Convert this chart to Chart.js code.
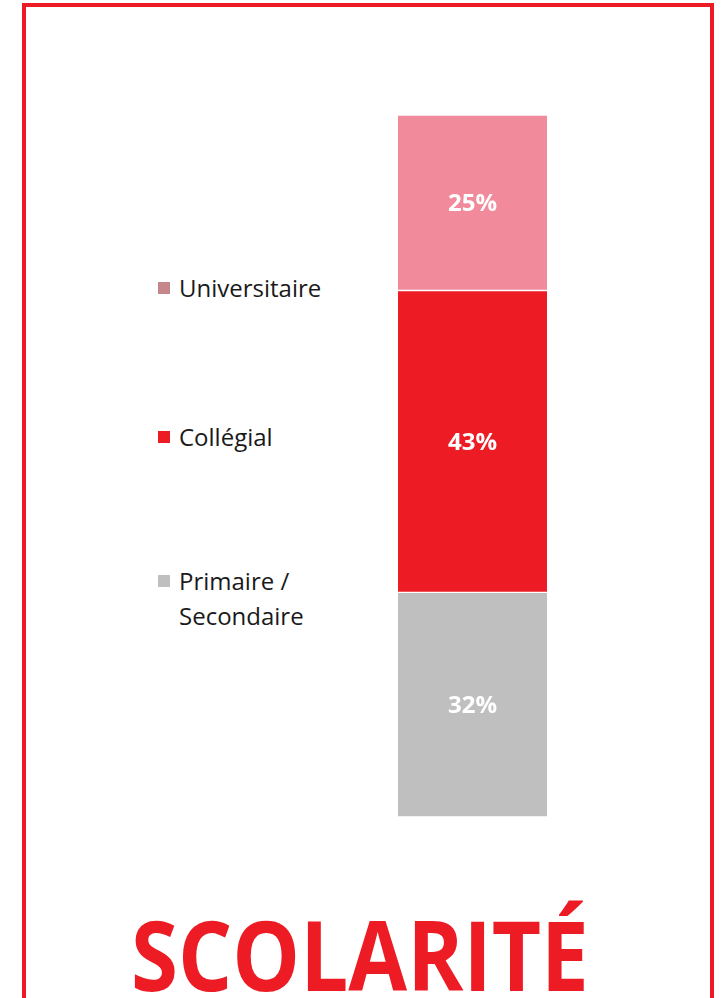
<!DOCTYPE html>
<html lang="fr">
<head>
<meta charset="utf-8">
<title>Scolarité</title>
<script src="https://cdn.jsdelivr.net/npm/chart.js@4"></script>
<style>
    body {
        margin: 0;
        width: 723px;
        height: 998px;
        overflow: hidden;
        background: #ffffff;
        position: relative;
        font-family: 'Open Sans', sans-serif;
    }
    #cadre {
        position: absolute;
        left: 22px;
        top: 3px;
        width: 684px;
        height: 1020px;
        border: 4px solid #ed1c24;
    }
    #zone-graphique {
        position: absolute;
        left: 398px;
        top: 115px;
        width: 149px;
        height: 702px;
    }
    #legende {
        position: absolute;
        left: 158px;
        top: 270px;
    }
    .item-legende {
        display: flex;
        align-items: flex-start;
        font-size: 24px;
        line-height: 35px;
        color: #1a1a1a;
    }
    .item-legende:nth-child(1) { margin-bottom: 114px; }
    .item-legende:nth-child(2) { margin-bottom: 109px; }
    .carre {
        width: 12px;
        height: 12px;
        margin-top: 12px;
        margin-right: 9px;
        flex: none;
    }
    .texte-legende {
        width: 165px;
    }
    #titre {
        position: absolute;
        top: 913px;
        left: 0;
        font-size: 97px;
        line-height: 80px;
        font-weight: 700;
        color: #ed1c24;
        white-space: nowrap;
        transform-origin: left top;
    }
</style>
</head>
<body>
<div id="cadre"></div>
<div id="legende"></div>
<div id="zone-graphique"><canvas id="graficoScolarite" width="149" height="702"></canvas></div>
<div id="titre">SCOLARITÉ</div>

<script>
// dados do gráfico (de baixo para cima)
const categorias = ['Scolarité'];
const niveaux = ['Primaire / Secondaire', 'Collégial', 'Universitaire'];
const pourcentages = [32, 43, 25];
const couleursBarres = ['#bfbfbf', '#ed1c24', '#f18b9b'];
const couleursLegende = ['#bfbfbf', '#ed1c24', '#c4868a'];

// legenda à esquerda, de cima para baixo
function montarLegenda() {
    const legende = document.getElementById('legende');
    for (let i = niveaux.length - 1; i >= 0; i--) {
        const item = document.createElement('div');
        item.className = 'item-legende';
        item.innerHTML = `<span class="carre" style="background:${couleursLegende[i]}"></span>` +
            `<span class="texte-legende">${niveaux[i]}</span>`;
        legende.appendChild(item);
    }
}

// título ajustado para a largura do original
function ajustarTitulo() {
    const titre = document.getElementById('titre');
    const largura = titre.offsetWidth;
    const escala = 458 / largura;
    titre.style.transform = `scaleX(${escala})`;
    titre.style.left = (360 - 229) + 'px';
}

// rótulos de porcentagem no centro de cada segmento
const rotulosPlugin = {
    id: 'rotulos',
    afterDatasetsDraw(chart) {
        const ctx = chart.ctx;
        ctx.save();
        ctx.fillStyle = '#ffffff';
        ctx.font = 'bold 24px "Open Sans"';
        ctx.textAlign = 'center';
        ctx.textBaseline = 'alphabetic';
        chart.data.datasets.forEach(function (ds, i) {
            const meta = chart.getDatasetMeta(i);
            meta.data.forEach(function (bar, j) {
                const p = bar.getCenterPoint();
                ctx.fillText(ds.data[j] + '%', p.x, p.y + 8.5);
            });
        });
        ctx.restore();
    }
};

function plotarGrafico() {
    const ctx = document.getElementById('graficoScolarite').getContext('2d');

    window.meuGrafico = new Chart(ctx, {
        type: 'bar',
        data: {
            labels: categorias,
            datasets: niveaux.map(function (nome, i) {
                return {
                    label: nome,
                    data: [pourcentages[i]],
                    backgroundColor: couleursBarres[i],
                    borderColor: '#ffffff',
                    borderWidth: { top: 1, bottom: 1, left: 0, right: 0 },
                    borderSkipped: false,
                    barPercentage: 1,
                    categoryPercentage: 1
                };
            })
        },
        options: {
            responsive: false,
            animation: false,
            layout: { padding: 0 },
            scales: {
                x: { stacked: true, display: false },
                y: { stacked: true, display: false, min: 0, max: 100 }
            },
            plugins: {
                legend: { display: false },
                tooltip: { enabled: false },
                title: { display: false }
            }
        },
        plugins: [rotulosPlugin]
    });
}

montarLegenda();
ajustarTitulo();
plotarGrafico();
</script>
</body>
</html>
